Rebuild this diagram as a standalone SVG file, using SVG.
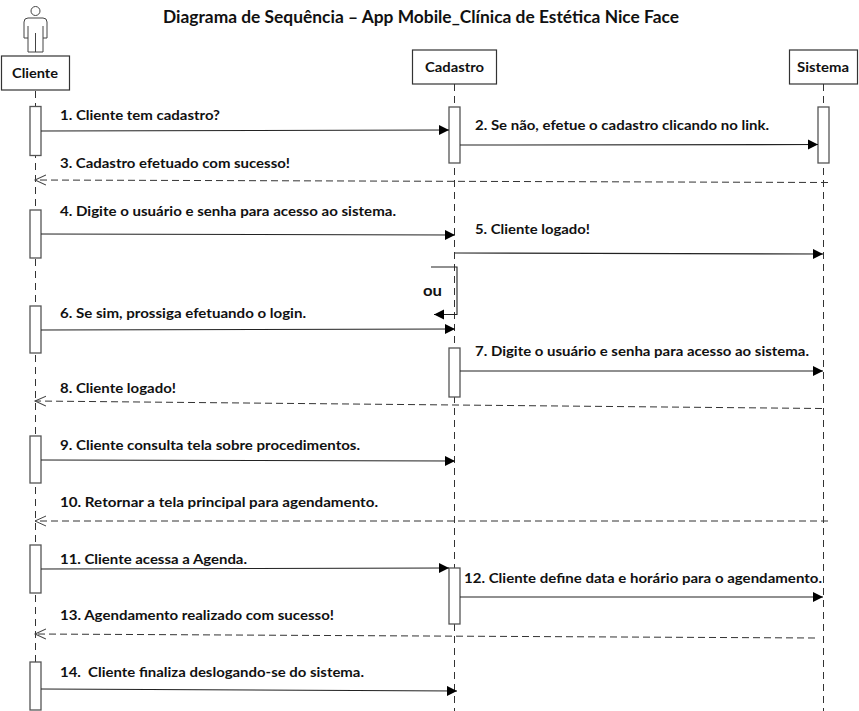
<svg xmlns="http://www.w3.org/2000/svg" width="859" height="711" viewBox="0 0 859 711">
<style>
text{font-family:Lato,"Open Sans","Liberation Sans",Arial,sans-serif;font-weight:700;font-size:14px;fill:#111}
.title{font-size:16.500px}
.box{fill:#fff;stroke:#333;stroke-width:1.2}
.act{fill:#fff;stroke:#555;stroke-width:1.3}
.life{stroke:#333;stroke-width:1;stroke-dasharray:7 5;fill:none}
.msg{stroke:#222;stroke-width:1.1;fill:none;marker-end:url(#solid)}
.ret{stroke:#333;stroke-width:1;stroke-dasharray:7 4;fill:none;marker-end:url(#open)}
</style>
<defs>
<marker id="solid" markerUnits="userSpaceOnUse" markerWidth="11" markerHeight="11" refX="10" refY="5" orient="auto"><path d="M0 0L10 5L0 10Z" fill="#000"/></marker>
<marker id="open" markerUnits="userSpaceOnUse" markerWidth="13" markerHeight="13" refX="11" refY="6" orient="auto"><path d="M0 1L11 6L0 11" fill="none" stroke="#444"/></marker>
</defs>
<rect width="859" height="711" fill="#fff"/>
<text class="title" x="421" y="23" text-anchor="middle" textLength="516" lengthAdjust="spacingAndGlyphs">Diagrama de Sequência – App Mobile_Clínica de Estética Nice Face</text>
<g id="lifelines">
<path class="life" d="M35.500 91V710"/>
<path class="life" d="M454.500 84V711"/>
<path class="life" d="M823.500 84V711"/>
</g>
<g id="actor-cliente" fill="none" stroke="#444" stroke-width="1">
<circle cx="35.500" cy="11" r="4.500" fill="#fff"/>
<path d="M28 18H43Q47 18 47 22V38H43V52H28V38H24V22Q24 18 28 18Z" fill="#fff"/>
<path d="M28 26V38M43 26V38M35.500 33V52"/>
</g>
<g id="node-cliente"><rect class="box" x="1.500" y="56" width="68" height="34"/><text x="35" y="78" text-anchor="middle" textLength="46" lengthAdjust="spacingAndGlyphs">Cliente</text></g>
<g id="node-cadastro"><rect class="box" x="412.500" y="50" width="84" height="34"/><text x="454.500" y="72" text-anchor="middle" textLength="59" lengthAdjust="spacingAndGlyphs">Cadastro</text></g>
<g id="node-sistema"><rect class="box" x="789.500" y="50" width="68" height="34"/><text x="823" y="72" text-anchor="middle" textLength="52" lengthAdjust="spacingAndGlyphs">Sistema</text></g>
<g id="activations">
<rect class="act" x="30" y="106.500" width="11" height="49"/>
<rect class="act" x="30" y="210" width="11" height="48"/>
<rect class="act" x="30" y="306" width="11" height="47"/>
<rect class="act" x="30" y="436" width="11" height="47"/>
<rect class="act" x="30" y="545" width="11" height="48"/>
<rect class="act" x="30" y="662" width="11" height="48"/>
<rect class="act" x="449" y="107" width="11" height="56"/>
<rect class="act" x="449" y="348" width="11" height="49"/>
<rect class="act" x="449" y="568" width="11" height="56"/>
<rect class="act" x="818" y="107" width="11" height="56"/>
</g>
<g id="connectors">
<path class="msg" d="M41 131L449 130"/>
<path class="msg" d="M460 145L818 144.500"/>
<path class="ret" d="M828 182.500L35 180"/>
<path class="msg" d="M41 234L455 235"/>
<path class="msg" d="M455 253L823 254"/>
<path class="msg" d="M431 267H457V314.500H434"/>
<path class="msg" d="M41 330L455 329"/>
<path class="msg" d="M460 371H823"/>
<path class="ret" d="M822 408.500L35 401"/>
<path class="msg" d="M41 460L455 461"/>
<path class="ret" d="M828 521H35"/>
<path class="msg" d="M41 569L449 568"/>
<path class="msg" d="M460 597H823"/>
<path class="ret" d="M815 638L35 634"/>
<path class="msg" d="M41 689L457 691"/>
</g>
<g id="labels">
<text x="60" y="120" textLength="160" lengthAdjust="spacingAndGlyphs">1. Cliente tem cadastro?</text>
<text x="475" y="130" textLength="294" lengthAdjust="spacingAndGlyphs">2. Se não, efetue o cadastro clicando no link.</text>
<text x="60" y="168" textLength="230" lengthAdjust="spacingAndGlyphs">3. Cadastro efetuado com sucesso!</text>
<text x="60" y="216" textLength="336" lengthAdjust="spacingAndGlyphs">4. Digite o usuário e senha para acesso ao sistema.</text>
<text x="475" y="234" textLength="115" lengthAdjust="spacingAndGlyphs">5. Cliente logado!</text>
<text x="423" y="296" style="font-size:16px" textLength="19" lengthAdjust="spacingAndGlyphs">ou</text>
<text x="60" y="318" textLength="246" lengthAdjust="spacingAndGlyphs">6. Se sim, prossiga efetuando o login.</text>
<text x="475" y="356" textLength="334" lengthAdjust="spacingAndGlyphs">7. Digite o usuário e senha para acesso ao sistema.</text>
<text x="60" y="393" textLength="116" lengthAdjust="spacingAndGlyphs">8. Cliente logado!</text>
<text x="60" y="450" textLength="300" lengthAdjust="spacingAndGlyphs">9. Cliente consulta tela sobre procedimentos.</text>
<text x="60" y="507" textLength="318" lengthAdjust="spacingAndGlyphs">10. Retornar a tela principal para agendamento.</text>
<text x="60" y="564" textLength="187" lengthAdjust="spacingAndGlyphs">11. Cliente acessa a Agenda.</text>
<text x="464" y="583" textLength="358" lengthAdjust="spacingAndGlyphs">12. Cliente define data e horário para o agendamento.</text>
<text x="60" y="620" textLength="274" lengthAdjust="spacingAndGlyphs">13. Agendamento realizado com sucesso!</text>
<text x="60" y="677" xml:space="preserve" textLength="304" lengthAdjust="spacingAndGlyphs">14.  Cliente finaliza deslogando-se do sistema.</text>
</g>
</svg>
